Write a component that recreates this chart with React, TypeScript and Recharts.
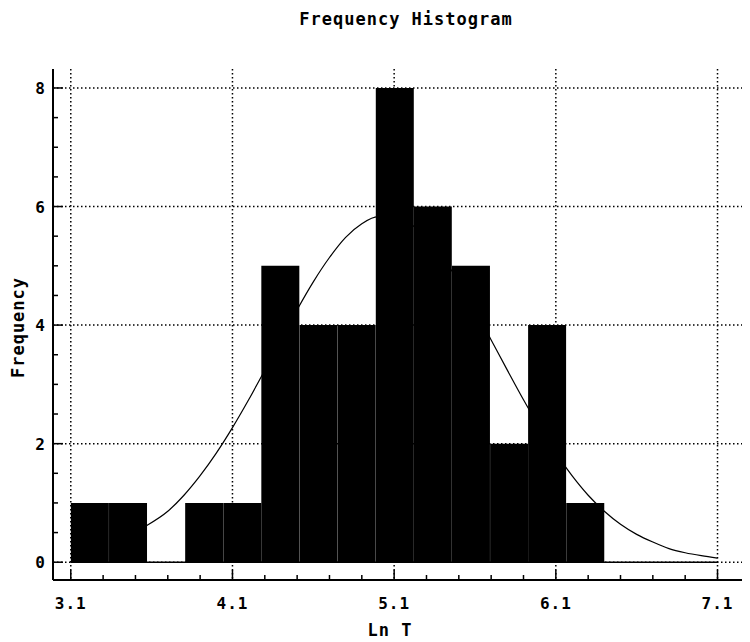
import {
  ComposedChart,
  Bar,
  Line,
  XAxis,
  YAxis,
  CartesianGrid,
  ReferenceLine,
  Label,
} from "recharts";

// histogram bins (Ln T), 14 classes
const BIN_CENTERS = [3.218, 3.454, 3.689, 3.925, 4.161, 4.396, 4.632, 4.868, 5.104, 5.339, 5.575, 5.811, 6.046, 6.282];
const BIN_COUNTS = [1, 1, 0, 1, 1, 5, 4, 4, 8, 6, 5, 2, 4, 1];

// fitted curve
const CURVE_X = [3.57, 3.7, 3.8, 3.9, 4.0, 4.1, 4.2, 4.3, 4.4, 4.5, 4.6, 4.7, 4.8, 4.9, 5.0, 5.1, 5.2, 5.3, 5.4, 5.5, 5.6, 5.7, 5.8, 5.9, 6.0, 6.1, 6.2, 6.3, 6.4, 6.5, 6.6, 6.7, 6.8, 6.9, 7.0, 7.1];
const CURVE_Y = [0.62, 0.86, 1.13, 1.46, 1.84, 2.27, 2.74, 3.24, 3.75, 4.26, 4.73, 5.14, 5.48, 5.71, 5.83, 5.83, 5.71, 5.48, 5.14, 4.73, 4.26, 3.75, 3.24, 2.74, 2.27, 1.84, 1.46, 1.13, 0.86, 0.64, 0.47, 0.34, 0.23, 0.16, 0.11, 0.07];

const X_LABELS = [3.1, 4.1, 5.1, 6.1, 7.1];
const X_TICKS = [3.1, 3.3, 3.5, 3.7, 3.9, 4.1, 4.3, 4.5, 4.7, 4.9, 5.1, 5.3, 5.5, 5.7, 5.9, 6.1, 6.3, 6.5, 6.7, 6.9, 7.1];
const Y_LABELS = [0, 2, 4, 6, 8];
const Y_TICKS = [0, 0.5, 1, 1.5, 2, 2.5, 3, 3.5, 4, 4.5, 5, 5.5, 6, 6.5, 7, 7.5, 8];

const X_DOMAIN = [2.99, 7.27];
const Y_DOMAIN = [-0.3, 8.32];

const FONT = "'DejaVu Sans Mono', monospace";

const bins = BIN_CENTERS.map((center, i) => ({ center, count: BIN_COUNTS[i] }));
const curve = CURVE_X.map((x, i) => ({ x, y: CURVE_Y[i] }));

const isMajor = (list: number[], v: number) => list.some((m) => Math.abs(m - v) < 1e-6);

const textStyle = { fontFamily: FONT, fontWeight: "bold" as const, fontSize: 16, letterSpacing: 1 };

function BottomTick({ x, y, payload }: any) {
  const major = isMajor(X_LABELS, payload.value);
  return (
    <g>
      <line x1={x} y1={y} x2={x} y2={y - (major ? 10 : 5)} stroke="#000" strokeWidth={1.5} />
      {major && (
        <text x={x} y={y + 29} textAnchor="middle" fill="#000" style={textStyle}>
          {payload.value.toFixed(1)}
        </text>
      )}
    </g>
  );
}

function TopTick({ x, y, payload }: any) {
  const major = isMajor(X_LABELS, payload.value);
  return <line x1={x} y1={y} x2={x} y2={y + (major ? 10 : 5)} stroke="#000" strokeWidth={1.5} />;
}

function LeftTick({ x, y, payload }: any) {
  const major = isMajor(Y_LABELS, payload.value);
  return (
    <g>
      <line x1={x} y1={y} x2={x + (major ? 10 : 5)} y2={y} stroke="#000" strokeWidth={1.5} />
      {major && (
        <text x={x - 7} y={y} dy={6} textAnchor="end" fill="#000" style={textStyle}>
          {payload.value}
        </text>
      )}
    </g>
  );
}

function RightTick({ x, y, payload }: any) {
  const major = isMajor(Y_LABELS, payload.value);
  return <line x1={x} y1={y} x2={x - (major ? 10 : 5)} y2={y} stroke="#000" strokeWidth={1.5} />;
}

const labelStyle = { fontFamily: FONT, fontWeight: "bold" as const, fontSize: 17, letterSpacing: 1 };

function XTitle({ viewBox }: any) {
  return (
    <text x={viewBox.x + viewBox.width / 2 - 9} y={viewBox.y + 56} textAnchor="middle" fill="#000" style={labelStyle}>
      Ln T
    </text>
  );
}

function YTitle({ viewBox }: any) {
  const cx = viewBox.x + 16;
  const cy = viewBox.y + viewBox.height / 2 + 3;
  return (
    <text x={cx} y={cy} transform={`rotate(-90, ${cx}, ${cy})`} textAnchor="middle" fill="#000" style={labelStyle}>
      Frequency
    </text>
  );
}

export default function App() {
  return (
    <div style={{ position: "relative", width: 742, height: 634, background: "#fff" }}>
      <div
        style={{
          position: "absolute",
          left: 398,
          top: 3,
          transform: "translateX(-50%)",
          whiteSpace: "nowrap",
          lineHeight: "17px",
          ...labelStyle,
        }}
      >
        Frequency Histogram
      </div>
      <ComposedChart
        width={742}
        height={634}
        data={bins}
        margin={{ top: 61, right: 5, bottom: 0, left: 0 }}
        barCategoryGap={0}
        barGap={0}
      >
        <CartesianGrid
          stroke="#000"
          strokeWidth={1.5}
          strokeDasharray="1.5 2.5"
          horizontalValues={Y_LABELS}
          verticalValues={X_LABELS}
        />
        <XAxis
          dataKey="center"
          type="number"
          domain={X_DOMAIN}
          allowDataOverflow
          ticks={X_TICKS}
          interval={0}
          height={62}
          tickSize={0}
          tickMargin={0}
          tickLine={false}
          axisLine={{ stroke: "#000", strokeWidth: 2 }}
          tick={BottomTick}
        >
          <Label content={XTitle} />
        </XAxis>
        <XAxis
          xAxisId="top"
          orientation="top"
          dataKey="x"
          type="number"
          domain={X_DOMAIN}
          allowDataOverflow
          ticks={X_TICKS}
          interval={0}
          height={0}
          tickSize={0}
          tickMargin={0}
          tickLine={false}
          axisLine={{ stroke: "#000", strokeWidth: 2 }}
          tick={TopTick}
        />
        <YAxis
          type="number"
          domain={Y_DOMAIN}
          allowDataOverflow
          ticks={Y_TICKS}
          interval={0}
          width={45}
          tickSize={0}
          tickMargin={0}
          tickLine={false}
          axisLine={{ stroke: "#000", strokeWidth: 2 }}
          tick={LeftTick}
        >
          <Label content={YTitle} />
        </YAxis>
        <YAxis
          yAxisId="right"
          orientation="right"
          type="number"
          domain={Y_DOMAIN}
          allowDataOverflow
          ticks={Y_TICKS}
          interval={0}
          width={0}
          tickSize={0}
          tickMargin={0}
          tickLine={false}
          axisLine={{ stroke: "#000", strokeWidth: 2 }}
          tick={RightTick}
        />
        <ReferenceLine
          segment={[
            { x: 3.1, y: 0 },
            { x: 7.1, y: 0 },
          ]}
          stroke="#000"
          strokeWidth={1.5}
        />
        <Bar dataKey="count" fill="#000" isAnimationActive={false} />
        <Line
          data={curve}
          xAxisId="top"
          yAxisId="right"
          dataKey="y"
          type="monotone"
          stroke="#000"
          strokeWidth={1.2}
          dot={false}
          isAnimationActive={false}
        />
      </ComposedChart>
    </div>
  );
}
